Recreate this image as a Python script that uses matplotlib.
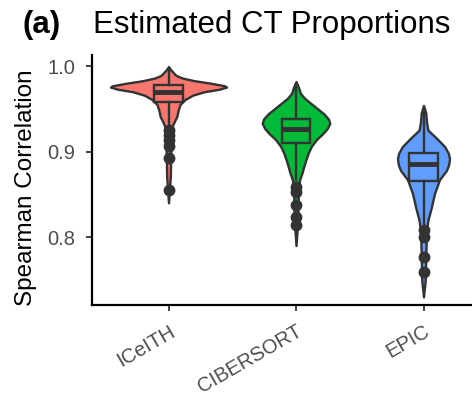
import matplotlib.pyplot as plt

plt.rcParams['font.family'] = ['Liberation Sans', 'DejaVu Sans']

methods = ["ICeITH", "CIBERSORT", "EPIC"]
colors = ["#F8766D", "#00BA38", "#619CFF"]
edge = "#333333"

# violin outlines: correlation level -> half width (x units)
iceith_y = [0.9995, 0.996, 0.992, 0.989, 0.986, 0.983, 0.980, 0.977, 0.9755, 0.973, 0.970,
            0.966, 0.961, 0.955, 0.948, 0.941, 0.935, 0.930, 0.920, 0.900, 0.870, 0.840]
iceith_w = [0.0, 0.016, 0.04, 0.06, 0.11, 0.20, 0.33, 0.44, 0.455, 0.40, 0.28,
            0.19, 0.13, 0.09, 0.075, 0.065, 0.045, 0.03, 0.022, 0.018, 0.014, 0.0]

cibersort_y = [0.982, 0.975, 0.968, 0.962, 0.956, 0.950, 0.944, 0.938, 0.933, 0.927, 0.921,
               0.914, 0.906, 0.898, 0.887, 0.875, 0.867, 0.850, 0.820, 0.790]
cibersort_w = [0.0, 0.02, 0.035, 0.07, 0.12, 0.17, 0.22, 0.255, 0.265, 0.245, 0.21,
               0.16, 0.12, 0.095, 0.07, 0.047, 0.028, 0.018, 0.014, 0.0]

epic_y = [0.954, 0.945, 0.933, 0.925, 0.916, 0.906, 0.898, 0.892, 0.885, 0.878, 0.867,
          0.851, 0.835, 0.820, 0.808, 0.780, 0.750, 0.730]
epic_w = [0.0, 0.018, 0.025, 0.035, 0.10, 0.165, 0.195, 0.204, 0.198, 0.18, 0.125,
          0.086, 0.062, 0.035, 0.024, 0.018, 0.014, 0.0]

violin_y = [iceith_y, cibersort_y, epic_y]
violin_w = [iceith_w, cibersort_w, epic_w]

# box summaries
q1 = [0.958, 0.910, 0.865]
med = [0.970, 0.927, 0.885]
q3 = [0.978, 0.938, 0.898]
whis_lo = [0.931, 0.867, 0.812]
whis_hi = [0.996, 0.975, 0.947]
outliers = [
    [0.925, 0.919, 0.913, 0.906, 0.892, 0.855],
    [0.858, 0.853, 0.837, 0.823, 0.814],
    [0.808, 0.800, 0.777, 0.759],
]

fig = plt.figure(figsize=(4.72, 4.03), dpi=100)
ax = fig.add_axes([92 / 472, 98 / 403, 408 / 472, 250 / 403])

for i in range(3):
    pos = i + 1
    y = violin_y[i]
    w = violin_w[i]
    ax.fill_betweenx(y, [pos - v for v in w], [pos + v for v in w],
                     facecolor=colors[i], edgecolor=edge, linewidth=1.7, zorder=1)

stats = []
for i in range(3):
    stats.append({"med": med[i], "q1": q1[i], "q3": q3[i],
                  "whislo": whis_lo[i], "whishi": whis_hi[i], "fliers": outliers[i]})

bp = ax.bxp(stats, positions=[1, 2, 3], widths=0.22, patch_artist=True, showcaps=False,
            boxprops=dict(edgecolor=edge, linewidth=1.7),
            medianprops=dict(color=edge, linewidth=3.5),
            whiskerprops=dict(color=edge, linewidth=1.7),
            flierprops=dict(marker="o", markerfacecolor=edge, markeredgecolor=edge,
                            markersize=7.5))
for patch, c in zip(bp["boxes"], colors):
    patch.set_facecolor(c)
    patch.set_zorder(2)

ax.set_xlim(0.4, 3.6)
ax.set_ylim(0.7205, 1.013)
ax.set_yticks([0.8, 0.9, 1.0])
ax.set_yticklabels(["0.8", "0.9", "1.0"])
ax.set_xticks([1, 2, 3])
ax.set_xticklabels(methods, rotation=30, ha="right", va="top", rotation_mode="anchor")
ax.tick_params(axis="both", colors="#333333", labelcolor="#4D4D4D", labelsize=14.5,
               length=4, width=1.3)
ax.tick_params(axis="x", pad=8)
ax.tick_params(axis="y", pad=8)
for s in ["top", "right"]:
    ax.spines[s].set_visible(False)
for s in ["left", "bottom"]:
    ax.spines[s].set_linewidth(1.6)
    ax.spines[s].set_color("black")

ax.set_ylabel("Spearman Correlation", fontsize=17.5, color="black")
ax.yaxis.set_label_coords(-0.135, 0.47)

fig.text(22 / 472, 1 - 33.5 / 403, "(a)", fontsize=22.5, fontweight="bold", va="baseline")
fig.text(93 / 472, 1 - 33.5 / 403, "Estimated CT Proportions", fontsize=22.5, va="baseline")

fig.savefig("out.png", dpi=100)
